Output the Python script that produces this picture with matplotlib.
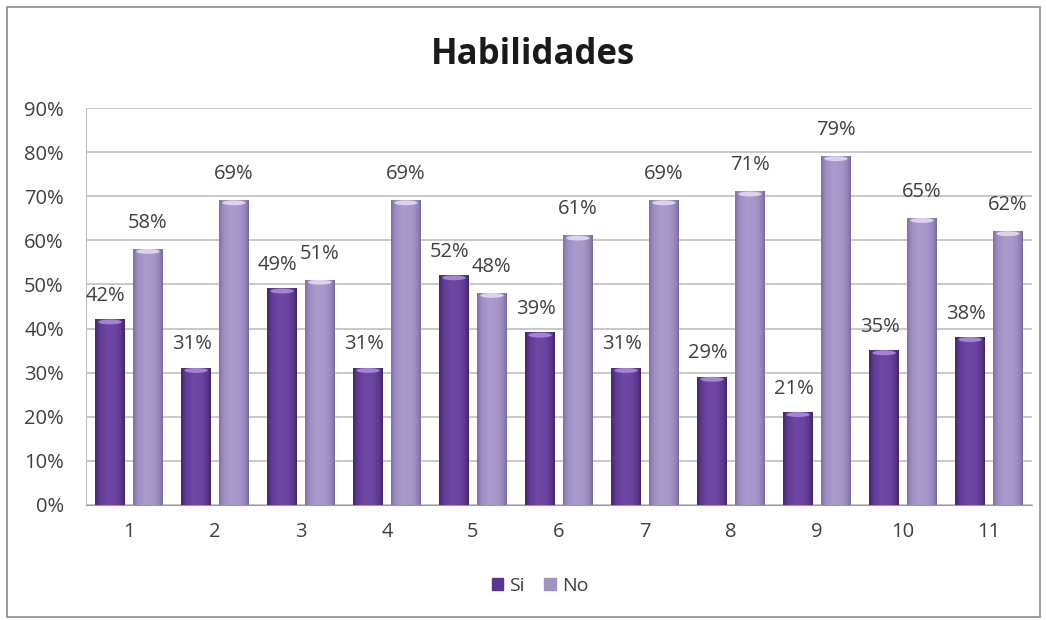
import matplotlib.pyplot as plt
import numpy as np
from matplotlib.colors import LinearSegmentedColormap
from matplotlib.patches import Rectangle, Ellipse

categories = ['1', '2', '3', '4', '5', '6', '7', '8', '9', '10', '11']
si = [42, 31, 49, 31, 52, 39, 31, 29, 21, 35, 38]
no = [58, 69, 51, 69, 48, 61, 69, 71, 79, 65, 62]
yticks = [0, 10, 20, 30, 40, 50, 60, 70, 80, 90]

plt.rcParams['font.family'] = ['Open Sans', 'DejaVu Sans']

fig = plt.figure(figsize=(10.47, 6.2), dpi=100)
ax = fig.add_axes([86 / 1047, 1 - 505 / 620, (1032 - 86) / 1047, (505 - 108) / 620])

# outer frame of the chart
fig.patches.append(Rectangle((7 / 1047, 3 / 620), 1033 / 1047, 610 / 620,
                             transform=fig.transFigure, fill=False,
                             edgecolor='#8c8c8c', linewidth=1.2))

x = np.arange(len(categories))
w = 0.34
off = 0.22

# cylinder-ish shading: dark rims, flat body
cmap_si = LinearSegmentedColormap.from_list(
    'si', [(0, '#452870'), (0.15, '#5f3b94'), (0.4, '#6e48a4'), (0.7, '#6a44a0'), (0.9, '#583689'), (1, '#40246a')])
cmap_no = LinearSegmentedColormap.from_list(
    'no', [(0, '#8070a6'), (0.15, '#9d8ec4'), (0.4, '#aa9bcc'), (0.7, '#a696c9'), (0.9, '#9383b8'), (1, '#7a6a9f')])
grad = np.linspace(0, 1, 64).reshape(1, -1)

bars_si = ax.bar(x - off, si, w, color='none', zorder=3)
bars_no = ax.bar(x + off, no, w, color='none', zorder=3)

for bars, cmap, top in ((bars_si, cmap_si, '#a483d4'), (bars_no, cmap_no, '#dcd2ef')):
    for b in bars:
        x0, h, bw = b.get_x(), b.get_height(), b.get_width()
        ax.imshow(grad, cmap=cmap, aspect='auto', extent=(x0, x0 + bw, 0, h),
                  zorder=3, interpolation='bicubic')
        ax.add_patch(Ellipse((x0 + bw / 2, h - 0.5), bw * 0.8, 1.1,
                             color=top, zorder=4, linewidth=0))

for b, v in zip(bars_si, si):
    ax.text(b.get_x() + b.get_width() / 2 - 0.05, v + 5.4, f'{v}%', ha='center', va='center',
            fontsize=14.5, color='#404040', zorder=5)
for b, v in zip(bars_no, no):
    ax.text(b.get_x() + b.get_width() / 2, v + 6.0, f'{v}%', ha='center', va='center',
            fontsize=14.5, color='#404040', zorder=5)

ax.set_xlim(-0.5, len(categories) - 0.5)
ax.set_ylim(0, 90)
ax.set_yticks(yticks)
ax.set_yticklabels([f'{t}%' for t in yticks])
ax.set_xticks(x)
ax.set_xticklabels(categories)
ax.tick_params(axis='both', length=0, labelsize=14.5, labelcolor='#404040', pad=12)
ax.tick_params(axis='y', pad=16)
ax.grid(axis='y', color='#bfbfbf', linewidth=1.2, zorder=0)
for s in ('top', 'right'):
    ax.spines[s].set_visible(False)
ax.spines['left'].set_color('#bfbfbf')
ax.spines['bottom'].set_color('#9a9a9a')

fig.text(533 / 1047, 1 - 55 / 620, 'Habilidades', ha='center', va='center',
         fontsize=25, fontweight='bold', color='#1a1a1a')

handles = [Rectangle((0, 0), 1, 1, color='#5a3590'), Rectangle((0, 0), 1, 1, color='#a093c4')]
fig.legend(handles, ['Si', 'No'], loc='center', bbox_to_anchor=(540 / 1047, 1 - 586 / 620),
           ncol=2, frameon=False, fontsize=14, handlelength=0.6, handleheight=0.6,
           handletextpad=0.3, columnspacing=1.0, labelcolor='#404040')

fig.savefig('out.png', dpi=100)
